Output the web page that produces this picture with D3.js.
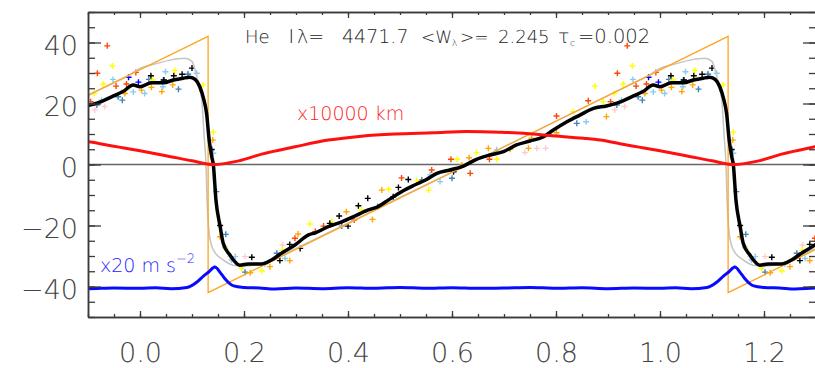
<!DOCTYPE html>
<html>
<head>
<meta charset="utf-8">
<script src="https://cdn.jsdelivr.net/npm/d3@7"></script>
<style>
  html, body { margin: 0; padding: 0; background: #fff; }
  svg { display: block; }
  text { text-rendering: geometricPrecision; }
</style>
</head>
<body>
<svg id="chart" width="815" height="368"></svg>
<script>
// ---------- data (phase in [0,1), folded data repeat with period 1) ----------
const xMajorTicks = [0.0, 0.2, 0.4, 0.6, 0.8, 1.0, 1.2];
const xMinorTicks = [-0.1,-0.05,0.0,0.05,0.1,0.15,0.2,0.25,0.3,0.35,0.4,0.45,0.5,0.55,0.6,0.65,0.7,0.75,0.8,0.85,0.9,0.95,1.0,1.05,1.1,1.15,1.2,1.25,1.3];
const yMajorTicks = [-40, -20, 0, 20, 40];
const yMinorTicks = [-50,-45,-40,-35,-30,-25,-20,-15,-10,-5,0,5,10,15,20,25,30,35,40,45,50];

// model sawtooth (orange)
const orangeLinePhase = [-0.1, 0.131, 0.131, 1.131, 1.131, 1.3];
const orangeLineVal   = [22.7, 42.0, -42.0, 42.0, -42.0, -27.8];

// smoothed model (gray)
const grayLinePhase = [0.0,0.03,0.06,0.086,0.1,0.106,0.115,0.119,0.123,0.127,0.129,0.133,0.141,0.16,0.179,0.205,0.25,0.3,0.4,0.5,0.6,0.7,0.8,0.9,0.95,0.98];
const grayLineVal   = [31.5,33.0,34.3,34.8,33.8,31.0,24.4,21.0,10.2,-0.7,-11.6,-22.6,-28.0,-31.3,-33.0,-33.3,-31.5,-27.5,-19.2,-10.8,-2.5,5.8,14.2,22.6,26.8,29.3];

// mean velocity curve (black)
const blackLinePhase = [0.000,0.022,0.045,0.064,0.083,0.096,0.106,0.115,0.123,0.128,0.133,0.138,0.141,0.146,0.154,0.160,0.173,0.192,0.208,0.234,0.253,0.272,0.298,0.324,0.337,0.362,0.388,0.413,0.439,0.458,0.478,0.503,0.527,0.551,0.571,0.596,0.622,0.647,0.673,0.699,0.724,0.750,0.776,0.795,0.821,0.846,0.872,0.897,0.917,0.949,0.968,0.987];
const blackLineVal   = [25.5,26.8,26.8,27.7,28.3,28.6,27.9,25.5,21.1,16.8,8.0,2.5,0.0,-11.6,-20.2,-25.8,-29.7,-33.0,-32.6,-32.6,-31.3,-29.1,-26.4,-23.1,-22.4,-20.4,-18.8,-16.9,-14.9,-13.8,-11.6,-8.9,-6.8,-4.9,-2.9,-1.8,-0.5,1.7,3.1,4.2,6.4,7.7,9.1,11.3,14.0,16.2,18.4,19.2,20.1,22.5,24.0,26.1];

// radius (red, x10000 km)
const redLinePhase = [0.0,0.05,0.1,0.141,0.19,0.234,0.298,0.362,0.426,0.49,0.564,0.628,0.692,0.744,0.788,0.853,0.885,0.923,0.96];
const redLineVal   = [4.5,2.9,1.2,0.0,1.2,3.4,5.8,8.0,9.3,10.0,10.4,10.8,10.6,10.2,9.5,8.6,8.0,6.8,5.7];

// acceleration (blue, x20 m s^-2)
const blueLinePhase = [0.0,0.03,0.06,0.09,0.109,0.122,0.131,0.144,0.155,0.163,0.172,0.18,0.2,0.23,0.26,0.3,0.35,0.4,0.45,0.5,0.55,0.6,0.65,0.7,0.75,0.8,0.85,0.9,0.95];
const blueLineVal   = [-40.6,-40.4,-40.7,-40.3,-38.6,-36.6,-35.4,-33.6,-35.6,-37.4,-39.0,-39.8,-40.3,-40.5,-40.8,-40.5,-40.7,-40.4,-40.6,-40.3,-40.6,-40.4,-40.6,-40.5,-40.3,-40.6,-40.4,-40.7,-40.5];

// individual observations (plus markers)
const pinkPtsPhase = [0.913,0.932,0.173,0.202,0.740,0.763,0.780,0.274];
const pinkPtsVal   = [17.9,19.0,-30.2,-30.2,3.9,5.3,5.3,-26.4];
const lightBluePtsPhase = [0.948,0.987,0.009,0.049,0.044,0.093,0.109,0.926,0.141,0.163,0.176,0.196,0.240,0.279,0.558,0.577,0.686,0.858,0.183];
const lightBluePtsVal   = [27.9,23.8,23.3,30.4,25.5,29.7,29.9,21.1,3.7,-27.0,-31.3,-33.5,-32.6,-30.8,-3.4,-5.6,4.8,14.0,-30.2];
const steelPtsPhase = [0.017,0.045,0.092,0.074,0.966,0.958,0.917,0.147,0.165,0.202,0.263,0.388,0.457,0.542,0.600,0.840];
const steelPtsVal   = [27.9,27.7,29.6,24.7,21.1,22.2,19.5,-8.9,-22.9,-35.3,-29.1,-20.2,-13.8,-5.1,-4.5,13.5];
const orangePtsPhase = [0.971,0.003,0.022,0.042,0.063,0.140,0.212,0.250,0.288,0.304,0.397,0.447,0.465,0.619,0.633,0.670,0.712,0.747,0.753,0.801,0.897,0.154];
const orangePtsVal   = [23.3,24.4,25.3,23.9,26.1,8.0,-35.5,-33.5,-31.5,-22.8,-15.5,-18.0,-8.4,-0.2,2.2,5.3,5.0,5.3,8.6,10.4,15.7,-23.7];
const yellowPtsPhase = [0.947,0.929,0.912,0.067,0.121,0.025,0.141,0.165,0.234,0.274,0.327,0.369,0.426,0.478,0.532,0.555,0.610,0.647,0.686,0.833,0.875,0.891,0.195];
const yellowPtsVal   = [32.3,26.4,23.3,30.8,26.1,27.7,10.6,-27.5,-34.9,-28.0,-19.5,-18.8,-14.9,-8.1,-5.3,-8.4,1.7,3.9,1.7,17.3,25.7,20.6,-34.0];
const orangeRedPtsPhase = [0.937,0.918,0.992,0.974,0.954,0.298,0.337,0.353,0.412,0.503,0.561,0.598,0.635,0.672,0.801,0.862,0.905];
const orangeRedPtsVal   = [38.9,29.9,30.2,26.4,25.7,-24.2,-22.0,-20.2,-18.2,-4.4,-1.8,1.7,-2.9,1.7,15.9,20.9,20.6];
const darkBluePtsPhase = [0.978,0.997];
const darkBluePtsVal   = [28.6,27.0];
const blackPtsPhase = [0.021,0.046,0.065,0.081,0.100,0.138,0.154,0.215,0.269,0.288,0.308,0.365,0.383,0.400,0.420,0.438,0.487,0.497,0.516,0.603];
const blackPtsVal   = [29.1,27.7,29.1,29.6,31.6,4.9,-20.0,-30.4,-31.5,-26.2,-27.5,-19.3,-16.9,-20.2,-13.5,-11.1,-10.6,-7.5,-4.9,-2.4];

// ---------- layout ----------
const padL = 88, padR = 816, padT = 12, padB = 317;
const svg = d3.select("#chart");
const x = d3.scaleLinear().domain([-0.1, 1.3]).range([padL, padR]);
const y = d3.scaleLinear().domain([-50, 50]).range([padB, padT]);

svg.append("defs").append("clipPath").attr("id", "clip")
  .append("rect").attr("x", padL).attr("y", padT).attr("width", padR - padL).attr("height", padB - padT);

// fold a periodic series over the visible phase range
function tile(ph, val, lo, hi) {
  const out = [];
  for (const k of [-1, 0, 1]) {
    for (let i = 0; i < ph.length; i++) {
      const p = ph[i] + k;
      if (p >= lo && p <= hi) out.push([p, val[i]]);
    }
  }
  return out.sort((a, b) => a[0] - b[0]);
}

const plot = svg.append("g").attr("clip-path", "url(#clip)");

// zero line
plot.append("line").attr("x1", padL).attr("x2", padR).attr("y1", y(0)).attr("y2", y(0))
  .attr("stroke", "#666").attr("stroke-width", 1.6);

// points
const plus = "M-3,0H3M0,-3V3";
function drawPts(ph, val, color) {
  const d = tile(ph, val, -0.1, 1.3);
  plot.append("g").selectAll("path").data(d).join("path")
    .attr("d", plus)
    .attr("transform", p => `translate(${x(p[0])},${y(p[1])})`)
    .attr("stroke", color).attr("stroke-width", 1.4).attr("fill", "none");
}
drawPts(pinkPtsPhase, pinkPtsVal, "#ffc9d2");
drawPts(lightBluePtsPhase, lightBluePtsVal, "#87cdf0");
drawPts(steelPtsPhase, steelPtsVal, "#4682b4");
drawPts(orangePtsPhase, orangePtsVal, "#ffa500");
drawPts(yellowPtsPhase, yellowPtsVal, "#ffff00");
drawPts(orangeRedPtsPhase, orangeRedPtsVal, "#ff4500");
drawPts(darkBluePtsPhase, darkBluePtsVal, "#0000ff");
drawPts(blackPtsPhase, blackPtsVal, "#000");

const lineSmooth = d3.line().x(d => x(d[0])).y(d => y(d[1])).curve(d3.curveMonotoneX);
const lineStraight = d3.line().x(d => x(d[0])).y(d => y(d[1]));

// gray model
plot.append("path").attr("d", lineSmooth(tile(grayLinePhase, grayLineVal, -0.3, 1.5)))
  .attr("fill", "none").attr("stroke", "#c4c4c4").attr("stroke-width", 1.5);
// orange sawtooth
plot.append("path").attr("d", lineStraight(orangeLinePhase.map((p, i) => [p, orangeLineVal[i]])))
  .attr("fill", "none").attr("stroke", "#ffa520").attr("stroke-width", 1.3);
// black mean
plot.append("path").attr("d", lineSmooth(tile(blackLinePhase, blackLineVal, -0.3, 1.5)))
  .attr("fill", "none").attr("stroke", "#000").attr("stroke-width", 3.5).attr("stroke-linejoin", "round");
// red radius
plot.append("path").attr("d", lineSmooth(tile(redLinePhase, redLineVal, -0.3, 1.5)))
  .attr("fill", "none").attr("stroke", "#ff1010").attr("stroke-width", 3);
// blue acceleration
plot.append("path").attr("d", lineSmooth(tile(blueLinePhase, blueLineVal, -0.3, 1.5)))
  .attr("fill", "none").attr("stroke", "#0a0aff").attr("stroke-width", 3);

// ---------- axes ----------
const axisColor = "#3a3a3a";
function styleAxis(g) {
  g.select(".domain").attr("stroke", axisColor).attr("stroke-width", 1.5);
  g.selectAll(".tick line").attr("stroke", axisColor).attr("stroke-width", 1.3);
  g.selectAll("text").attr("fill", "#444").attr("font-family", "'DejaVu Sans', sans-serif")
    .attr("font-size", 27).attr("font-weight", 200);
}
const fmtY = d => d < 0 ? "\u2212" + Math.abs(d) : String(d);
const fmtX = d3.format(".1f");

// bottom
svg.append("g").attr("transform", `translate(0,${padB})`)
  .call(d3.axisBottom(x).tickValues(xMinorTicks).tickSizeInner(-3).tickSizeOuter(0).tickFormat(""))
  .call(styleAxis);
const gb = svg.append("g").attr("transform", `translate(0,${padB})`)
  .call(d3.axisBottom(x).tickValues(xMajorTicks).tickSizeInner(-6).tickSizeOuter(0).tickFormat(fmtX))
  .call(styleAxis);
gb.selectAll("text").attr("y", 45).attr("dy", 0);
// top
svg.append("g").attr("transform", `translate(0,${padT})`)
  .call(d3.axisTop(x).tickValues(xMinorTicks).tickSizeInner(-3).tickSizeOuter(0).tickFormat(""))
  .call(styleAxis);
svg.append("g").attr("transform", `translate(0,${padT})`)
  .call(d3.axisTop(x).tickValues(xMajorTicks).tickSizeInner(-6).tickSizeOuter(0).tickFormat(""))
  .call(styleAxis);
// left
svg.append("g").attr("transform", `translate(${padL},0)`)
  .call(d3.axisLeft(y).tickValues(yMinorTicks).tickSizeInner(-7).tickSizeOuter(0).tickFormat(""))
  .call(styleAxis);
const gl = svg.append("g").attr("transform", `translate(${padL},0)`)
  .call(d3.axisLeft(y).tickValues(yMajorTicks).tickSizeInner(-13).tickSizeOuter(0).tickPadding(10).tickFormat(fmtY))
  .call(styleAxis);
gl.selectAll("text").attr("dy", 0).attr("y", 12);
// right
svg.append("g").attr("transform", `translate(${padR},0)`)
  .call(d3.axisRight(y).tickValues(yMinorTicks).tickSizeInner(-7).tickSizeOuter(0).tickFormat(""))
  .call(styleAxis);
svg.append("g").attr("transform", `translate(${padR},0)`)
  .call(d3.axisRight(y).tickValues(yMajorTicks).tickSizeInner(-13).tickSizeOuter(0).tickFormat(""))
  .call(styleAxis);

// ---------- texts ----------
const font = "'DejaVu Sans', sans-serif";
// title as one text element; pieces: [text, x, baselineY, fontSize]
const titlePieces = [
  ["He", 245, 43, 18],
  ["I", 288.5, 43, 19],
  ["\u03bb=", 297, 43, 19],
  ["4471.7", 342, 43, 19],
  ["<W", 421, 43, 17],
  ["\u03bb", 452, 46, 9],
  [">=", 460, 43, 17],
  ["2.245", 498, 43, 18],
  ["\u03c4", 558, 43, 19],
  ["c", 570, 46, 9],
  ["=0.002", 578, 43, 19.5]
];
const title = svg.append("text").attr("font-family", font).attr("font-weight", 200).attr("fill", "#222");
title.selectAll("tspan").data(titlePieces).join("tspan")
  .attr("x", d => d[1]).attr("y", d => d[2]).attr("font-size", d => d[3]).text(d => d[0]);

svg.append("text").attr("x", 297).attr("y", 120).attr("font-family", font).attr("font-size", 19)
  .attr("font-weight", 200).attr("fill", "#ff1a1a").text("x10000  km");

const bl = svg.append("text").attr("x", 100).attr("y", 272).attr("font-family", font).attr("font-size", 19)
  .attr("font-weight", 200).attr("fill", "#1a1aff");
bl.append("tspan").text("x20  m  s");
bl.append("tspan").attr("dy", -9).attr("font-size", 13).text("\u22122");
</script>
</body>
</html>
